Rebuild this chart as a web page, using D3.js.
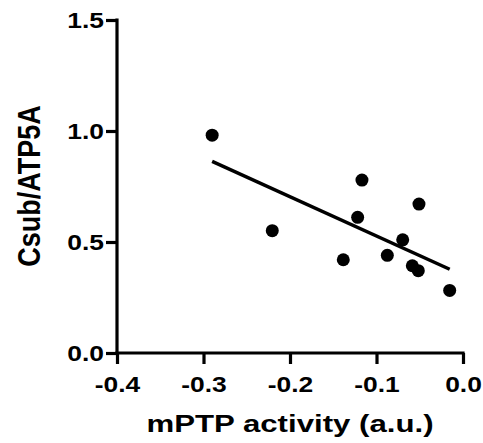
<!DOCTYPE html>
<html>
<head>
<meta charset="utf-8">
<script src="https://cdn.jsdelivr.net/npm/d3@7"></script>
<style>
  html, body { margin: 0; padding: 0; background: #fff; }
  svg { display: block; }
  text { font-family: "Liberation Sans", Arial, Helvetica, sans-serif; font-weight: bold; fill: #000; }
</style>
</head>
<body>
<svg id="chart" width="483" height="443"></svg>
<script>
// Data
const xValues = [-0.290, -0.2205, -0.1384, -0.1218, -0.1168, -0.0875, -0.0697, -0.0509, -0.0586, -0.0517, -0.0154];
const yValues = [0.981, 0.551, 0.420, 0.611, 0.779, 0.440, 0.510, 0.671, 0.393, 0.371, 0.282];
const xTicks = [-0.4, -0.3, -0.2, -0.1, 0.0];
const yTicks = [0.0, 0.5, 1.0, 1.5];
const xTitle = "mPTP activity (a.u.)";
const yTitle = "Csub/ATP5A";

const svg = d3.select("#chart");
const x = d3.scaleLinear().domain([-0.4, 0.0]).range([117, 463]);
const y = d3.scaleLinear().domain([0, 1.5]).range([353, 20]);
const fmt = d => d.toFixed(1);
const sx = 1.2; // horizontal stretch of the reference's lettering

// Axes
const xAxis = svg.append("g").attr("transform", `translate(0,${y(0)})`)
  .call(d3.axisBottom(x).tickValues(xTicks).tickFormat(fmt).tickSize(11).tickPadding(12).tickSizeOuter(0));
const yAxis = svg.append("g").attr("transform", `translate(${x(-0.4)},0)`)
  .call(d3.axisLeft(y).tickValues(yTicks).tickFormat(fmt).tickSize(11).tickPadding(2).tickSizeOuter(0));

[xAxis, yAxis].forEach(g => {
  g.select(".domain").attr("stroke", "#000").attr("stroke-width", 3.2);
  g.selectAll(".tick line").attr("stroke", "#000").attr("stroke-width", 3.2);
  g.selectAll(".tick text").style("font-size", "22px").style("font-family", "'Liberation Sans', Arial, sans-serif").style("font-weight", "bold").attr("fill", "#000");
});
xAxis.selectAll(".tick text").attr("transform", `scale(${sx},1)`);
yAxis.selectAll(".tick text").attr("x", 0).attr("transform", `translate(-13,0) scale(${sx},1)`);
xAxis.select(".domain").attr("d", `M${x(-0.4) - 1.6},0H${x(0) + 1.6}`);
yAxis.select(".domain").attr("d", `M0,${y(1.5) - 1.6}V${y(0) + 1.6}`);

// Regression line
const n = xValues.length;
const mx = d3.mean(xValues), my = d3.mean(yValues);
let sxy = 0, sxx = 0;
for (let i = 0; i < n; i++) { sxy += (xValues[i] - mx) * (yValues[i] - my); sxx += (xValues[i] - mx) ** 2; }
const slope = sxy / sxx, intercept = my - slope * mx;
const [xmin, xmax] = d3.extent(xValues);
svg.append("line")
  .attr("x1", x(xmin)).attr("y1", y(intercept + slope * xmin))
  .attr("x2", x(xmax)).attr("y2", y(intercept + slope * xmax))
  .attr("stroke", "#000").attr("stroke-width", 3.5);

// Points
svg.append("g").selectAll("circle")
  .data(xValues.map((v, i) => [v, yValues[i]]))
  .join("circle")
  .attr("cx", d => x(d[0])).attr("cy", d => y(d[1]))
  .attr("r", 6.5).attr("fill", "#000");

// Titles
svg.append("text")
  .attr("transform", `translate(${(x(-0.4) + x(0)) / 2},432) scale(1.3,1)`)
  .attr("text-anchor", "middle").style("font-size", "24px").text(xTitle);
svg.append("text")
  .attr("transform", `translate(39.5,186) scale(1.15,1) rotate(-90)`)
  .attr("text-anchor", "middle").style("font-size", "27px").text(yTitle);
</script>
</body>
</html>
